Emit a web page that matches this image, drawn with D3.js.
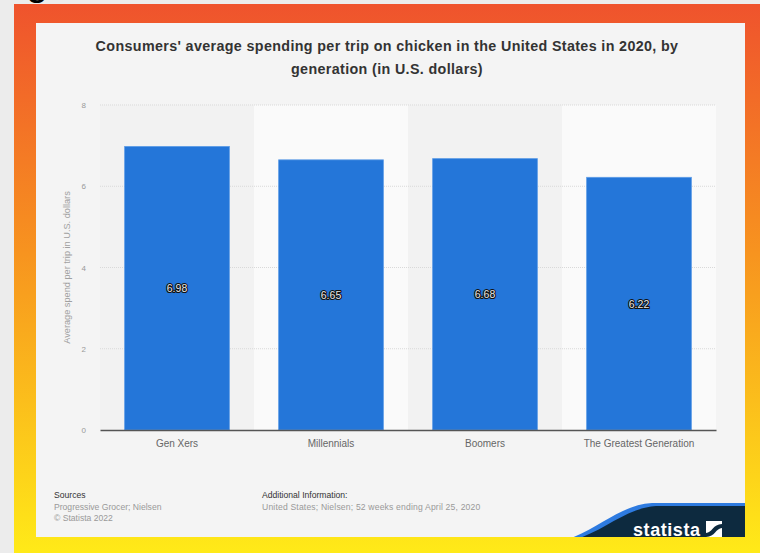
<!DOCTYPE html>
<html>
<head>
<meta charset="utf-8">
<script src="https://cdn.jsdelivr.net/npm/d3@7"></script>
<style>
  html, body { margin: 0; padding: 0; background: #ececec; }
  svg { display: block; font-family: "Liberation Sans", Arial, Helvetica, sans-serif; }
</style>
</head>
<body>
<svg id="chart" width="760" height="553"></svg>
<script>
// Average spend per trip on chicken, by generation (US, 2020)
const categories = ["Gen Xers", "Millennials", "Boomers", "The Greatest Generation"];
const spending = [6.98, 6.65, 6.68, 6.22];
const yTicks = [0, 2, 4, 6, 8];

const titleLines = [
  "Consumers' average spending per trip on chicken in the United States in 2020, by",
  "generation (in U.S. dollars)"
];
const yAxisTitle = "Average spend per trip in U.S. dollars";

const svg = d3.select("#chart");
const W = 760, H = 553;

// Framed background: orange-to-yellow gradient
const defs = svg.append("defs");
const grad = defs.append("linearGradient")
  .attr("id", "frameGrad").attr("x1", 0).attr("y1", 0).attr("x2", 0).attr("y2", 1);
grad.append("stop").attr("offset", "0%").attr("stop-color", "#ef532d");
grad.append("stop").attr("offset", "45%").attr("stop-color", "#f7931f");
grad.append("stop").attr("offset", "100%").attr("stop-color", "#ffea18");

svg.append("rect").attr("x", 0).attr("y", 0).attr("width", W).attr("height", H).attr("fill", "#ececec");

// Descender of a heading glyph above the frame
svg.append("text").attr("x", 26).attr("y", -5)
  .attr("font-size", 40).attr("fill", "#000").text("g");

svg.append("rect").attr("x", 14).attr("y", 4).attr("width", W - 14).attr("height", H - 4)
  .attr("fill", "url(#frameGrad)");

// Card
const card = { x: 36, y: 23, w: 709, h: 514 };
svg.append("rect").attr("x", card.x).attr("y", card.y).attr("width", card.w).attr("height", card.h)
  .attr("fill", "#f4f4f4");

// Title
const title = svg.append("text")
  .attr("text-anchor", "middle")
  .attr("font-size", 14.3).attr("font-weight", "bold").attr("fill", "#333")
  .attr("letter-spacing", 0.36);
titleLines.forEach((line, i) => {
  title.append("tspan").attr("x", 387).attr("y", 51 + i * 23).text(line);
});

// Plot area
const plot = { left: 100, right: 716, top: 105, bottom: 430 };

const x = d3.scaleBand()
  .domain(categories)
  .range([plot.left, plot.right])
  .paddingInner(0.32)
  .paddingOuter(0.16);

const bandOuter = d3.scaleBand()
  .domain(categories)
  .range([plot.left, plot.right])
  .padding(0);

const y = d3.scaleLinear().domain([0, 8]).range([plot.bottom, plot.top]);

// Alternating column shading
svg.append("g").selectAll("rect")
  .data(categories)
  .join("rect")
  .attr("x", d => bandOuter(d))
  .attr("y", plot.top)
  .attr("width", bandOuter.bandwidth())
  .attr("height", plot.bottom - plot.top)
  .attr("fill", (d, i) => i % 2 === 0 ? "#f2f2f2" : "#fafafa");

// Gridlines
svg.append("g").selectAll("line")
  .data(yTicks.filter(t => t > 0))
  .join("line")
  .attr("x1", plot.left).attr("x2", plot.right)
  .attr("y1", d => y(d)).attr("y2", d => y(d))
  .attr("stroke", "#d9d9d9").attr("stroke-width", 1)
  .attr("stroke-dasharray", "1,1");

// Y axis
const yAxis = svg.append("g")
  .attr("transform", `translate(${plot.left},0)`)
  .call(d3.axisLeft(y).tickValues(yTicks).tickFormat(d3.format("d")).tickSize(0).tickPadding(14));
yAxis.select(".domain").remove();
yAxis.selectAll("text")
  .attr("font-family", "Liberation Sans, Arial, sans-serif")
  .attr("font-size", 8).attr("fill", "#999");

svg.append("text")
  .attr("transform", `translate(70,${(plot.top + plot.bottom) / 2}) rotate(-90)`)
  .attr("text-anchor", "middle")
  .attr("font-size", 9.2).attr("fill", "#a0a0a0")
  .text(yAxisTitle);

// Bars
svg.append("g").selectAll("rect")
  .data(categories)
  .join("rect")
  .attr("x", d => x(d))
  .attr("y", (d, i) => y(spending[i]))
  .attr("width", x.bandwidth())
  .attr("height", (d, i) => y(0) - y(spending[i]))
  .attr("fill", "#2476d9")
  .attr("stroke", "#5d9ce6").attr("stroke-width", 0.8);

// X axis
const xAxis = svg.append("g")
  .attr("transform", `translate(0,${plot.bottom})`)
  .call(d3.axisBottom(bandOuter).tickSize(0).tickPadding(10));
xAxis.select(".domain").attr("stroke", "#555").attr("stroke-width", 1.6);
xAxis.selectAll("text")
  .attr("font-family", "Liberation Sans, Arial, sans-serif")
  .attr("font-size", 10).attr("fill", "#666");

// Value labels inside bars
svg.append("g").selectAll("text")
  .data(categories)
  .join("text")
  .attr("x", d => x(d) + x.bandwidth() / 2)
  .attr("y", (d, i) => (y(spending[i]) + y(0)) / 2 + 4)
  .attr("text-anchor", "middle")
  .attr("font-size", 10.5)
  .attr("fill", "#e8e8e8")
  .attr("stroke", "#111").attr("stroke-width", 2.2)
  .attr("paint-order", "stroke")
  .attr("stroke-linejoin", "round")
  .text((d, i) => spending[i].toFixed(2));

// Footer
const foot = svg.append("g").attr("font-size", 8.6);
foot.append("text").attr("x", 54).attr("y", 498).attr("fill", "#333").text("Sources");
foot.append("text").attr("x", 54).attr("y", 510).attr("fill", "#999").text("Progressive Grocer; Nielsen");
foot.append("text").attr("x", 54).attr("y", 521).attr("fill", "#999").text("© Statista 2022");
foot.append("text").attr("x", 262).attr("y", 498).attr("fill", "#333").text("Additional Information:");
foot.append("text").attr("x", 262).attr("y", 510).attr("fill", "#999")
  .attr("letter-spacing", 0.17).text("United States; Nielsen; 52 weeks ending April 25, 2020");

// Brand badge
const logo = svg.append("g");
defs.append("clipPath").attr("id", "cardClip")
  .append("rect").attr("x", card.x).attr("y", card.y).attr("width", card.w).attr("height", card.h);
const lg = logo.append("g").attr("clip-path", "url(#cardClip)");
lg.append("path")
  .attr("d", "M566,540 C600,528 620,505 652,503 L745,503 L745,540 Z")
  .attr("fill", "#2e7be0");
lg.append("path")
  .attr("d", "M574,540 C606,530 626,508 656,506 L745,506 L745,540 Z")
  .attr("fill", "#0d2a3f");
lg.append("text").attr("x", 633).attr("y", 536)
  .attr("font-size", 18).attr("font-weight", "bold").attr("fill", "#fff")
  .attr("textLength", 67).text("statista");
lg.append("rect").attr("x", 706).attr("y", 521).attr("width", 16).attr("height", 16).attr("fill", "#fff");
lg.append("path")
  .attr("d", "M706,533 C712,533 713,524 722,524 L722,528 C716,528 715,537 706,537 Z")
  .attr("fill", "#0d2a3f");
</script>
</body>
</html>
